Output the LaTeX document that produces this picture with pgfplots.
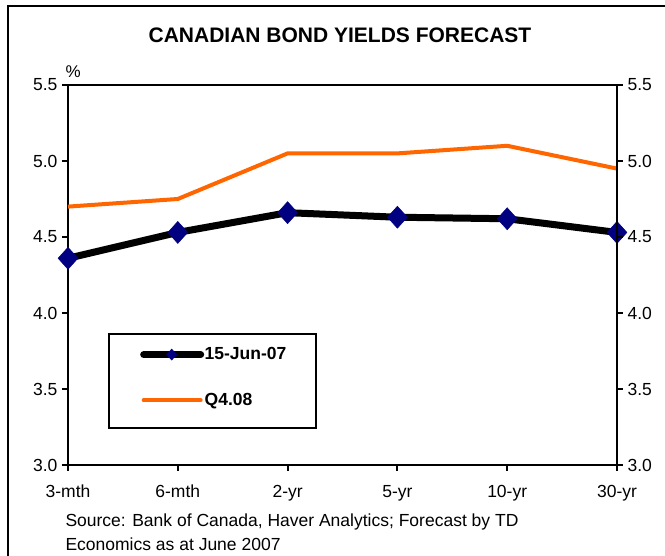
\documentclass[border=0pt]{standalone}
\usepackage{fontspec}
\setmainfont{Liberation Sans}
\usepackage{pgfplots}
\pgfplotsset{compat=1.18}
\definecolor{navy}{RGB}{0,0,128}
\definecolor{orng}{RGB}{255,102,0}
\begin{document}
\begin{tikzpicture}[x=1pt,y=1pt]
\useasboundingbox (0,0) rectangle (665,556);
\draw[line width=2.5pt] (8,-5) -- (8,550) -- (670,550);
\node[font=\fontsize{21}{24}\selectfont\bfseries, anchor=base] at (340,513) {CANADIAN BOND YIELDS FORECAST};
\node[font=\fontsize{17}{20}\selectfont, anchor=base west] at (62,478) {\%};
\node[font=\fontsize{17.5}{20}\selectfont, anchor=base west] at (62,29) {Source: Bank of Canada, Haver Analytics; Forecast by TD};
\node[font=\fontsize{17.5}{20}\selectfont, anchor=base west] at (62,5) {Economics as at June 2007};
\begin{axis}[
    at={(68pt,91pt)}, anchor=south west, scale only axis,
    width=549pt, height=380pt,
    xmin=0, xmax=5, ymin=3, ymax=5.5,
    ytick={3,3.5,4,4.5,5,5.5},
    tick align=outside, major tick length=6pt,
    axis line style={black, line width=2pt},
    major tick style={black, line width=2pt},
    tick label style={font=\fontsize{17.5}{20}\selectfont},
    /pgf/number format/assume math mode=true,
    /pgf/number format/fixed, /pgf/number format/fixed zerofill, /pgf/number format/precision=1,
  xtick={0,1,2,3,4,5},
  xticklabels={3-mth,6-mth,2-yr,5-yr,10-yr,30-yr},
  xtick pos=bottom, ytick pos=left,
  xticklabel style={anchor=base, yshift=-27pt},
  yticklabel style={anchor=east, xshift=-1pt},
  clip=false,
  legend cell align=left,
  legend style={at={(rel axis cs:0.1311,0.3131)}, anchor=north west,
    draw=none, fill=none, inner sep=0pt,
    column sep=-1pt, row sep=29pt,
    nodes={inner sep=1.5pt},
    font=\fontsize{17.5}{20}\selectfont\bfseries},
  legend image code/.code={\draw[line cap=round, mark repeat=2,mark phase=2,#1,every mark/.append style={scale=0.5}] plot coordinates {(0pt,0pt) (28pt,0pt) (57pt,0pt)};},
]
\draw[black, line width=2pt] (rel axis cs:0.0747,0.3447) rectangle (rel axis cs:0.4517,0.0974);
\addplot[black, line width=7pt, mark=diamond*, mark size=11pt,
  mark options={fill=navy, draw=navy, line width=0.5pt, xscale=1.2}]
  coordinates {(0,4.36) (1,4.53) (2,4.66) (3,4.63) (4,4.62) (5,4.53)};
\addlegendentry{15-Jun-07}
\addplot[orng, line width=4pt, no marks]
  coordinates {(0,4.70) (1,4.75) (2,5.05) (3,5.05) (4,5.10) (5,4.95)};
\addlegendentry{Q4.08}
\end{axis}
\begin{axis}[
    at={(68pt,91pt)}, anchor=south west, scale only axis,
    width=549pt, height=380pt,
    xmin=0, xmax=5, ymin=3, ymax=5.5,
    ytick={3,3.5,4,4.5,5,5.5},
    tick align=outside, major tick length=6pt,
    axis line style={black, line width=2pt},
    major tick style={black, line width=2pt},
    tick label style={font=\fontsize{17.5}{20}\selectfont},
    /pgf/number format/assume math mode=true,
    /pgf/number format/fixed, /pgf/number format/fixed zerofill, /pgf/number format/precision=1,
  axis x line=none, axis y line*=right, ytick pos=right,
  yticklabel style={anchor=west, xshift=1pt},
]
\addplot[draw=none] coordinates {(0,3) (5,5.5)};
\end{axis}
\end{tikzpicture}
\end{document}
